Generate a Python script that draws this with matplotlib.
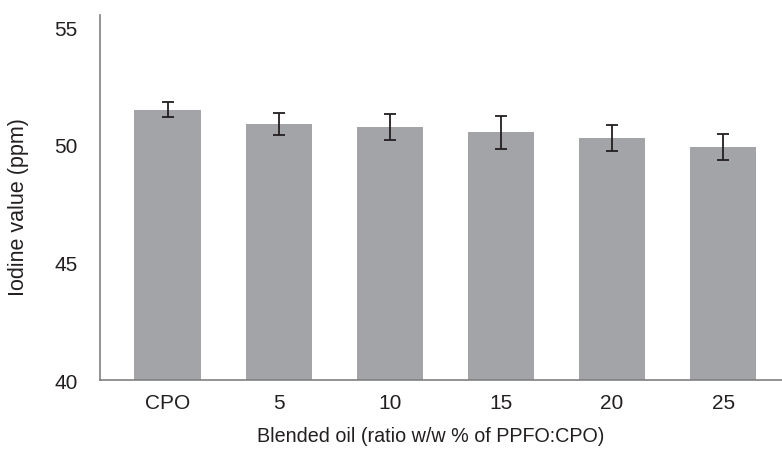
import matplotlib.pyplot as plt

plt.rcParams['font.family'] = ['Liberation Sans', 'DejaVu Sans']

categories = ["CPO", "5", "10", "15", "20", "25"]
iodine = [51.5, 50.9, 50.75, 50.55, 50.3, 49.9]
errors = [0.33, 0.47, 0.55, 0.70, 0.57, 0.56]

fig = plt.figure(figsize=(7.82, 4.52), dpi=100)
ax = fig.add_axes([0.1279, 0.157, 0.8721, 0.8076])

x = range(len(categories))
ax.bar(x, iodine, width=0.6, color="#a3a4a8", zorder=2)
ax.errorbar(x, iodine, yerr=errors, fmt="none", ecolor="#231f20",
            elinewidth=1.3, capsize=4, capthick=1.3, zorder=3)

ax.set_xlim(-0.61, 5.53)
ax.set_ylim(40, 55.53)
ax.set_yticks([40, 45, 50, 55])
ax.set_xticks(list(x))
ax.set_xticklabels(categories)

for s in ["top", "right"]:
    ax.spines[s].set_visible(False)
for s in ["left", "bottom"]:
    ax.spines[s].set_color("#808080")
    ax.spines[s].set_linewidth(1.2)

ax.tick_params(axis="y", length=0, pad=16, labelsize=15, colors="#231f20")
ax.tick_params(axis="x", length=0, pad=9, labelsize=15, colors="#231f20")

ax.set_ylabel("Iodine value (ppm)", fontsize=15.5, color="#231f20")
ax.set_xlabel("Blended oil (ratio w/w % of PPFO:CPO)", fontsize=14.2,
              color="#231f20")
# Excel puts the titles a bit off centre
ax.yaxis.set_label_coords(-0.104, 0.477)
ax.xaxis.set_label_coords(0.485, -0.127)

fig.savefig("out.png", dpi=100)
